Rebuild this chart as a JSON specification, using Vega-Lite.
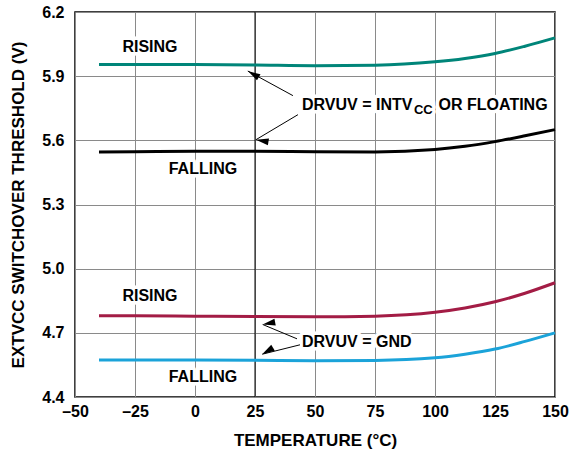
{
  "$schema": "https://vega.github.io/schema/vega-lite/v6.json",
  "width": 480,
  "height": 385,
  "autosize": "none",
  "padding": {"left": 75, "top": 12, "right": 14, "bottom": 60},
  "background": "white",
  "datasets": {
    "curves": [
      {"T": -40, "V": 5.955, "series": "INTV Rising"},
      {"T": -25, "V": 5.955, "series": "INTV Rising"},
      {"T": 0, "V": 5.954, "series": "INTV Rising"},
      {"T": 25, "V": 5.952, "series": "INTV Rising"},
      {"T": 50, "V": 5.949, "series": "INTV Rising"},
      {"T": 75, "V": 5.951, "series": "INTV Rising"},
      {"T": 100, "V": 5.967, "series": "INTV Rising"},
      {"T": 112.5, "V": 5.983, "series": "INTV Rising"},
      {"T": 125, "V": 6.006, "series": "INTV Rising"},
      {"T": 137.5, "V": 6.04, "series": "INTV Rising"},
      {"T": 150, "V": 6.079, "series": "INTV Rising"},
      {"T": -40, "V": 5.546, "series": "INTV Falling"},
      {"T": -25, "V": 5.547, "series": "INTV Falling"},
      {"T": 0, "V": 5.549, "series": "INTV Falling"},
      {"T": 25, "V": 5.549, "series": "INTV Falling"},
      {"T": 50, "V": 5.547, "series": "INTV Falling"},
      {"T": 75, "V": 5.546, "series": "INTV Falling"},
      {"T": 100, "V": 5.557, "series": "INTV Falling"},
      {"T": 112.5, "V": 5.572, "series": "INTV Falling"},
      {"T": 125, "V": 5.594, "series": "INTV Falling"},
      {"T": 137.5, "V": 5.621, "series": "INTV Falling"},
      {"T": 150, "V": 5.65, "series": "INTV Falling"},
      {"T": -40, "V": 4.780, "series": "GND Rising"},
      {"T": -25, "V": 4.780, "series": "GND Rising"},
      {"T": 0, "V": 4.778, "series": "GND Rising"},
      {"T": 25, "V": 4.776, "series": "GND Rising"},
      {"T": 50, "V": 4.775, "series": "GND Rising"},
      {"T": 75, "V": 4.778, "series": "GND Rising"},
      {"T": 100, "V": 4.796, "series": "GND Rising"},
      {"T": 112.5, "V": 4.816, "series": "GND Rising"},
      {"T": 125, "V": 4.845, "series": "GND Rising"},
      {"T": 137.5, "V": 4.885, "series": "GND Rising"},
      {"T": 150, "V": 4.934, "series": "GND Rising"},
      {"T": -40, "V": 4.573, "series": "GND Falling"},
      {"T": -25, "V": 4.573, "series": "GND Falling"},
      {"T": 0, "V": 4.573, "series": "GND Falling"},
      {"T": 25, "V": 4.572, "series": "GND Falling"},
      {"T": 50, "V": 4.570, "series": "GND Falling"},
      {"T": 75, "V": 4.571, "series": "GND Falling"},
      {"T": 100, "V": 4.583, "series": "GND Falling"},
      {"T": 112.5, "V": 4.600, "series": "GND Falling"},
      {"T": 125, "V": 4.624, "series": "GND Falling"},
      {"T": 137.5, "V": 4.66, "series": "GND Falling"},
      {"T": 150, "V": 4.700, "series": "GND Falling"}
    ],
    "labels": [
      {"text": "RISING", "T": -18.75, "V": 6.036, "g": "c"},
      {"text": "FALLING", "T": 3.3, "V": 5.467, "g": "c"},
      {"text": "RISING", "T": -18.75, "V": 4.873, "g": "c"},
      {"text": "FALLING", "T": 3.3, "V": 4.494, "g": "c"},
      {"text": "DRVUV = INTV", "T": 44.6, "V": 5.763, "g": "l"},
      {"text": "OR FLOATING", "T": 101.5, "V": 5.763, "g": "l"},
      {"text": "DRVUV = GND", "T": 44.6, "V": 4.657, "g": "l"},
      {"text": "CC", "T": 91.2, "V": 5.763, "g": "s"}
    ],
    "arrows": [
      {"id": "A", "T": 40.8, "V": 5.809, "T2": 22.0, "V2": 5.924},
      {"id": "B", "T": 42.9, "V": 5.720, "T2": 25.4, "V2": 5.603},
      {"id": "C", "T": 42.5, "V": 4.672, "T2": 28.2, "V2": 4.739},
      {"id": "D", "T": 43.75, "V": 4.644, "T2": 28.0, "V2": 4.600}
    ],
    "vline": [{"T": 25}]
  },
  "layer": [
    {
      "data": {"name": "vline"},
      "mark": {"type": "rule", "color": "#000", "strokeWidth": 1},
      "encoding": {
        "x": {"field": "T", "type": "quantitative", "scale": {"domain": [-50, 150], "nice": false, "zero": false}, "title": "TEMPERATURE (°C)"}
      }
    },
    {
      "data": {"name": "labels"},
      "transform": [{"filter": "datum.g === 'c'"}],
      "mark": {"type": "text", "align": "center", "baseline": "middle", "color": "white", "stroke": "white", "strokeWidth": 7, "strokeJoin": "round", "fontSize": 16},
      "encoding": {
        "x": {"field": "T", "type": "quantitative", "scale": {"domain": [-50, 150], "nice": false, "zero": false}, "title": "TEMPERATURE (°C)"},
        "y": {"field": "V", "type": "quantitative", "scale": {"domain": [4.4, 6.2], "nice": false, "zero": false}, "title": "EXTVCC SWITCHOVER THRESHOLD (V)"},
        "text": {"field": "text"}
      }
    },
    {
      "data": {"name": "labels"},
      "transform": [{"filter": "datum.g === 'l'"}],
      "mark": {"type": "text", "align": "left", "baseline": "middle", "color": "white", "stroke": "white", "strokeWidth": 7, "strokeJoin": "round", "fontSize": 16},
      "encoding": {
        "x": {"field": "T", "type": "quantitative", "scale": {"domain": [-50, 150], "nice": false, "zero": false}, "title": "TEMPERATURE (°C)"},
        "y": {"field": "V", "type": "quantitative", "scale": {"domain": [4.4, 6.2], "nice": false, "zero": false}, "title": "EXTVCC SWITCHOVER THRESHOLD (V)"},
        "text": {"field": "text"}
      }
    },
    {
      "data": {"name": "labels"},
      "transform": [{"filter": "datum.g === 's'"}],
      "mark": {"type": "text", "align": "left", "baseline": "middle", "dy": 5, "color": "white", "stroke": "white", "strokeWidth": 7, "strokeJoin": "round", "fontSize": 13},
      "encoding": {
        "x": {"field": "T", "type": "quantitative", "scale": {"domain": [-50, 150], "nice": false, "zero": false}, "title": "TEMPERATURE (°C)"},
        "y": {"field": "V", "type": "quantitative", "scale": {"domain": [4.4, 6.2], "nice": false, "zero": false}, "title": "EXTVCC SWITCHOVER THRESHOLD (V)"},
        "text": {"field": "text"}
      }
    },
    {
      "data": {"name": "curves"},
      "mark": {"type": "line", "strokeWidth": 3, "interpolate": "monotone"},
      "encoding": {
        "x": {
          "field": "T", "type": "quantitative",
          "scale": {"domain": [-50, 150], "nice": false, "zero": false},
          "title": "TEMPERATURE (°C)",
          "axis": {
            "values": [-50, -25, 0, 25, 50, 75, 100, 125, 150],
            "labelExpr": "replace(replace(datum.label, '\u2212', '\u2013'), '-', '\u2013')",
            "labelFlush": false,
            "labelPadding": 6,
            "titlePadding": 13
          }
        },
        "y": {
          "field": "V", "type": "quantitative",
          "scale": {"domain": [4.4, 6.2], "nice": false, "zero": false},
          "title": "EXTVCC SWITCHOVER THRESHOLD (V)",
          "axis": {
            "values": [4.4, 4.7, 5.0, 5.3, 5.6, 5.9, 6.2],
            "format": ".1f",
            "labelPadding": 11,
            "titlePadding": 14
          }
        },
        "color": {
          "field": "series", "type": "nominal",
          "scale": {"domain": ["INTV Rising", "INTV Falling", "GND Rising", "GND Falling"], "range": ["#008579", "#000000", "#a31c45", "#1ba3d9"]},
          "legend": null
        }
      }
    },
    {
      "data": {"name": "arrows"},
      "mark": {"type": "rule", "color": "#000", "strokeWidth": 1},
      "encoding": {
        "x": {"field": "T", "type": "quantitative", "scale": {"domain": [-50, 150], "nice": false, "zero": false}, "title": "TEMPERATURE (°C)"},
        "y": {"field": "V", "type": "quantitative", "scale": {"domain": [4.4, 6.2], "nice": false, "zero": false}, "title": "EXTVCC SWITCHOVER THRESHOLD (V)"},
        "x2": {"field": "T2"},
        "y2": {"field": "V2"}
      }
    },
    {
      "data": {"name": "arrows"},
      "mark": {"type": "point", "shape": "M0,0 L-0.55,2 L0.55,2 Z", "filled": true, "color": "#000", "opacity": 1, "size": 160},
      "encoding": {
        "x": {"field": "T2", "type": "quantitative", "scale": {"domain": [-50, 150], "nice": false, "zero": false}, "title": "TEMPERATURE (°C)"},
        "y": {"field": "V2", "type": "quantitative", "scale": {"domain": [4.4, 6.2], "nice": false, "zero": false}, "title": "EXTVCC SWITCHOVER THRESHOLD (V)"},
        "angle": {"field": "id", "type": "nominal", "scale": {"domain": ["A", "B", "C", "D"], "range": [300, 239, 292, 254]}, "legend": null}
      }
    },
    {
      "data": {"name": "labels"},
      "transform": [{"filter": "datum.g === 'c'"}],
      "mark": {"type": "text", "align": "center", "baseline": "middle", "color": "#000", "fontSize": 16},
      "encoding": {
        "x": {"field": "T", "type": "quantitative", "scale": {"domain": [-50, 150], "nice": false, "zero": false}, "title": "TEMPERATURE (°C)"},
        "y": {"field": "V", "type": "quantitative", "scale": {"domain": [4.4, 6.2], "nice": false, "zero": false}, "title": "EXTVCC SWITCHOVER THRESHOLD (V)"},
        "text": {"field": "text"}
      }
    },
    {
      "data": {"name": "labels"},
      "transform": [{"filter": "datum.g === 'l'"}],
      "mark": {"type": "text", "align": "left", "baseline": "middle", "color": "#000", "fontSize": 16},
      "encoding": {
        "x": {"field": "T", "type": "quantitative", "scale": {"domain": [-50, 150], "nice": false, "zero": false}, "title": "TEMPERATURE (°C)"},
        "y": {"field": "V", "type": "quantitative", "scale": {"domain": [4.4, 6.2], "nice": false, "zero": false}, "title": "EXTVCC SWITCHOVER THRESHOLD (V)"},
        "text": {"field": "text"}
      }
    },
    {
      "data": {"name": "labels"},
      "transform": [{"filter": "datum.g === 's'"}],
      "mark": {"type": "text", "align": "left", "baseline": "middle", "dy": 5, "color": "#000", "fontSize": 13},
      "encoding": {
        "x": {"field": "T", "type": "quantitative", "scale": {"domain": [-50, 150], "nice": false, "zero": false}, "title": "TEMPERATURE (°C)"},
        "y": {"field": "V", "type": "quantitative", "scale": {"domain": [4.4, 6.2], "nice": false, "zero": false}, "title": "EXTVCC SWITCHOVER THRESHOLD (V)"},
        "text": {"field": "text"}
      }
    }
  ],
  "config": {
    "view": {"stroke": "#000", "strokeWidth": 1.5},
    "axis": {
      "labelFont": "Liberation Sans", "labelFontWeight": "bold", "labelFontSize": 16, "labelColor": "#000",
      "titleFont": "Liberation Sans", "titleFontWeight": "bold", "titleFontSize": 17, "titleColor": "#000",
      "gridColor": "#8a8a8a", "gridWidth": 1, "gridOpacity": 1, "ticks": false, "domain": false
    },
    "text": {"font": "Liberation Sans", "fontWeight": "bold"}
  }
}
